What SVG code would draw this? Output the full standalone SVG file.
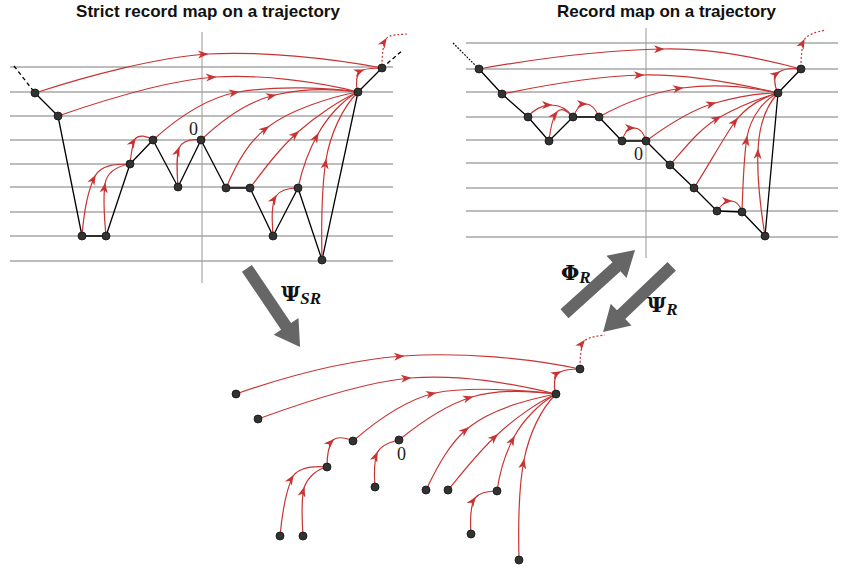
<svg xmlns="http://www.w3.org/2000/svg" width="841" height="569" viewBox="0 0 841 569">
<style>
.grid{stroke:#a8a8a8;stroke-width:1.3;fill:none}
.axis{stroke:#a0a0a0;stroke-width:1.1;fill:none}
.traj{stroke:#000;stroke-width:1.3;fill:none;stroke-linejoin:round}
.dash{stroke:#000;stroke-width:1.3;fill:none;stroke-dasharray:4,3}
.dot{stroke:#000;stroke-width:1.2;fill:none;stroke-dasharray:1.8,1.4}
.rc{stroke:#c83434;stroke-width:1.2;fill:none;marker-mid:url(#ah)}
.rd{stroke:#c83434;stroke-width:1.2;fill:none;stroke-dasharray:2,2;marker-mid:url(#ah)}
.nd circle{fill:#333;stroke:#111;stroke-width:0.8}
.title{font-family:"Liberation Sans",Arial,sans-serif;font-weight:bold;font-size:17px;fill:#111}
.zero{font-family:"Liberation Serif","DejaVu Serif",serif;font-size:18px;fill:#222}
.gk{font-family:"DejaVu Serif","Liberation Serif",serif;font-weight:bold;font-size:21px;fill:#111}
.sub{font-family:"Liberation Serif","DejaVu Serif",serif;font-weight:bold;font-style:italic;font-size:17px;fill:#111}
.big{fill:#666}
</style>
<defs>
<marker id="ah" viewBox="-10 -5 12 10" markerWidth="12" markerHeight="10" refX="0" refY="0" orient="auto" markerUnits="userSpaceOnUse">
<path d="M-9,-4 L1.5,0 L-9,4 L-6,0 Z" fill="#c83434"/>
</marker>
<polygon id="bigarrow" points="0,-6 70,-6 70,-15 95,0 70,15 70,6 0,6"/>
</defs>

<!-- titles -->
<text class="title" x="208" y="17" text-anchor="middle" textLength="264" lengthAdjust="spacing">Strict record map on a trajectory</text>
<text class="title" x="666.5" y="17" text-anchor="middle" textLength="219" lengthAdjust="spacing">Record map on a trajectory</text>

<!-- left grid -->
<g id="left-grid">
<path class="grid" d="M10,67H393M10,92H393M10,116H393M10,140H393M10,164H393M10,187H393M10,212H393M10,236H393M10,261H393"/>
<path class="axis" d="M202,32V283"/>
</g>
<!-- right grid -->
<g id="right-grid">
<path class="grid" d="M466,43H838M466,69H838M466,92H838M466,117H838M466,140H838M466,163H838M466,188H838M466,211H838M466,237H838"/>
<path class="axis" d="M646,28V258"/>
</g>

<g id="connectors">
<!-- left trajectory -->
<path class="dash" d="M14,66L35,93"/>
<path class="traj" d="M35,93L58,116L82,236L106,236L130,164L153,140L178,187L201,140L226,188L250,188L273,236L298,188L322,260L358,92L382,68"/>
<path class="dash" d="M382,68L403,50"/>
<!-- left red record arrows -->
<path class="rc" d="M35,93 C90,75 160,57 207,54 C260,51 330,58 382,68"/>
<path class="rc" d="M58,116 C110,98 170,80 215,77 C260,74 320,82 358,92"/>
<path class="rc" d="M153,140 C175,120 205,98 238,92 C280,85 330,88 358,92"/>
<path class="rc" d="M201,140 C220,122 245,102 275,95 C305,88 335,89 358,92"/>
<path class="rc" d="M226,188 C238,160 250,140 268,127 C290,110 330,97 358,92"/>
<path class="rc" d="M250,188 C265,168 280,148 298,132 C316,116 340,100 358,92"/>
<path class="rc" d="M298,188 C303,165 310,148 318,134 C328,116 343,100 358,92"/>
<path class="rc" d="M322,260 C321,215 322,185 326,160 C330,135 342,108 358,92"/>
<path class="rc" d="M82,236 C84,210 88,190 95,176 C101,165 115,164 130,164"/>
<path class="rc" d="M106,236 C104,215 103,198 105,184 C107,172 118,166 130,164"/>
<path class="rc" d="M130,164 C131,155 132,145 135,139 C139,134 147,136 153,140"/>
<path class="rc" d="M178,187 C177,172 176,158 179,148 C183,140 193,139 201,140"/>
<path class="rc" d="M273,236 C272,220 271,205 276,196 C281,189 291,188 298,188"/>
<path class="rc" d="M358,92 C355,84 356,73 363,70 C369,68 376,68 382,68"/>
<path class="rd" d="M382,66 C382,55 383,45 386,39 C390,34 398,35 407,34"/>

<!-- right trajectory -->
<path class="dot" d="M453,43L479,69"/>
<path class="traj" d="M479,69L502,94L528,117L549,141L573,117L599,117L622,141L646,141L670,165L694,188L717,211L742,212L765,236L778,93L801,69"/>
<!-- right red record arrows -->
<path class="rc" d="M479,69 C540,58 610,50 663,49 C710,48 760,58 801,69"/>
<path class="rc" d="M502,94 C550,84 600,76 643,75 C690,74 740,84 778,93"/>
<path class="rc" d="M528,117 C533,110 542,105 551,105 C560,105 568,110 573,117"/>
<path class="rc" d="M549,141 C550,131 552,119 557,112 C561,107 568,111 573,117"/>
<path class="rc" d="M573,117 C576,110 580,104 586,104 C592,104 596,110 599,117"/>
<path class="rc" d="M599,117 C620,105 650,93 682,88 C720,83 755,88 778,93"/>
<path class="rc" d="M622,141 C624,134 628,128 634,128 C640,128 644,134 646,141"/>
<path class="rc" d="M646,141 C665,127 690,110 715,103 C740,96 760,93 778,93"/>
<path class="rc" d="M670,165 C685,148 700,128 720,117 C740,106 760,98 778,93"/>
<path class="rc" d="M694,188 C710,163 725,135 737,119 C748,106 764,97 778,93"/>
<path class="rc" d="M717,211 C721,205 726,201 731,201 C736,201 740,205 742,212"/>
<path class="rc" d="M742,212 C743,180 744,155 747,137 C751,116 764,100 778,93"/>
<path class="rc" d="M765,236 C760,205 757,170 758,150 C759,125 767,105 778,93"/>
<path class="rc" d="M778,93 C774,85 773,76 779,72 C785,68 793,68 801,69"/>
<path class="rd" d="M801,67 C801,57 802,46 804,40 C808,34 816,32 826,30"/>

<!-- bottom tree -->
<path class="rc" d="M236,394 C290,375 350,360 403,356 C460,352 530,358 580,369"/>
<path class="rc" d="M258,419 C310,400 365,382 410,378 C460,374 510,383 556,394"/>
<path class="rc" d="M353,441 C375,422 405,400 435,393 C470,386 520,390 556,394"/>
<path class="rc" d="M327,467 C327,457 328,446 333,440 C338,436 346,438 353,441"/>
<path class="rc" d="M280,536 C282,515 286,490 293,476 C300,467 315,466 327,467"/>
<path class="rc" d="M303,536 C302,520 301,500 304,488 C308,476 318,469 327,467"/>
<path class="rc" d="M399,440 C420,423 445,405 472,397 C500,389 530,391 556,394"/>
<path class="rc" d="M375,487 C374,475 374,462 377,453 C381,445 390,442 399,440"/>
<path class="rc" d="M426,490 C438,465 450,443 468,428 C490,410 525,400 556,394"/>
<path class="rc" d="M448,490 C463,472 480,450 497,435 C515,418 538,402 556,394"/>
<path class="rc" d="M497,491 C500,470 506,452 514,437 C523,420 540,403 556,394"/>
<path class="rc" d="M471,534 C470,520 470,506 475,498 C480,492 489,491 497,491"/>
<path class="rc" d="M519,560 C518,520 519,485 524,460 C529,435 540,410 556,394"/>
<path class="rc" d="M556,394 C553,386 554,375 560,372 C566,369 573,369 580,369"/>
<path class="rd" d="M580,367 C580,357 581,347 584,341 C589,337 597,336 605,335"/>

<!-- big gray map arrows -->
<use href="#bigarrow" class="big" transform="translate(246.9,268.3) rotate(55.97)"/>
<use href="#bigarrow" class="big" transform="translate(564.5,313.7) rotate(-42.07)"/>
<use href="#bigarrow" class="big" transform="translate(671.7,266.3) rotate(136.25)"/>
</g>

<!-- labels -->
<text class="gk" x="281" y="301">Ψ<tspan class="sub" dy="3">SR</tspan></text>
<text class="gk" x="561" y="280">Φ<tspan class="sub" dy="3">R</tspan></text>
<text class="gk" x="647" y="312">Ψ<tspan class="sub" dy="3">R</tspan></text>
<text class="zero" x="189" y="135">0</text>
<text class="zero" x="634" y="160">0</text>
<text class="zero" x="397" y="460">0</text>

<!-- left nodes -->
<g id="L1" class="nd"><circle cx="35" cy="93" r="4"/></g>
<g id="L2" class="nd"><circle cx="58" cy="116" r="4"/></g>
<g id="L3" class="nd"><circle cx="82" cy="236" r="4"/></g>
<g id="L4" class="nd"><circle cx="106" cy="236" r="4"/></g>
<g id="L5" class="nd"><circle cx="130" cy="164" r="4"/></g>
<g id="L6" class="nd"><circle cx="153" cy="140" r="4"/></g>
<g id="L7" class="nd"><circle cx="178" cy="187" r="4"/></g>
<g id="L8" class="nd"><circle cx="201" cy="140" r="4"/></g>
<g id="L9" class="nd"><circle cx="226" cy="188" r="4"/></g>
<g id="L10" class="nd"><circle cx="250" cy="188" r="4"/></g>
<g id="L11" class="nd"><circle cx="273" cy="236" r="4"/></g>
<g id="L12" class="nd"><circle cx="298" cy="188" r="4"/></g>
<g id="L13" class="nd"><circle cx="322" cy="260" r="4"/></g>
<g id="L14" class="nd"><circle cx="358" cy="92" r="4"/></g>
<g id="L15" class="nd"><circle cx="382" cy="68" r="4"/></g>
<!-- right nodes -->
<g id="R1" class="nd"><circle cx="479" cy="69" r="4"/></g>
<g id="R2" class="nd"><circle cx="502" cy="94" r="4"/></g>
<g id="R3" class="nd"><circle cx="528" cy="117" r="4"/></g>
<g id="R4" class="nd"><circle cx="549" cy="141" r="4"/></g>
<g id="R5" class="nd"><circle cx="573" cy="117" r="4"/></g>
<g id="R6" class="nd"><circle cx="599" cy="117" r="4"/></g>
<g id="R7" class="nd"><circle cx="622" cy="141" r="4"/></g>
<g id="R8" class="nd"><circle cx="646" cy="141" r="4"/></g>
<g id="R9" class="nd"><circle cx="670" cy="165" r="4"/></g>
<g id="R10" class="nd"><circle cx="694" cy="188" r="4"/></g>
<g id="R11" class="nd"><circle cx="717" cy="211" r="4"/></g>
<g id="R12" class="nd"><circle cx="742" cy="212" r="4"/></g>
<g id="R13" class="nd"><circle cx="765" cy="236" r="4"/></g>
<g id="R14" class="nd"><circle cx="778" cy="93" r="4"/></g>
<g id="R15" class="nd"><circle cx="801" cy="69" r="4"/></g>
<!-- bottom nodes -->
<g id="B1" class="nd"><circle cx="236" cy="394" r="4"/></g>
<g id="B2" class="nd"><circle cx="258" cy="419" r="4"/></g>
<g id="B3" class="nd"><circle cx="353" cy="441" r="4"/></g>
<g id="B4" class="nd"><circle cx="327" cy="467" r="4"/></g>
<g id="B5" class="nd"><circle cx="280" cy="536" r="4"/></g>
<g id="B6" class="nd"><circle cx="303" cy="536" r="4"/></g>
<g id="B7" class="nd"><circle cx="399" cy="440" r="4"/></g>
<g id="B8" class="nd"><circle cx="375" cy="487" r="4"/></g>
<g id="B9" class="nd"><circle cx="426" cy="490" r="4"/></g>
<g id="B10" class="nd"><circle cx="448" cy="490" r="4"/></g>
<g id="B11" class="nd"><circle cx="497" cy="491" r="4"/></g>
<g id="B12" class="nd"><circle cx="471" cy="534" r="4"/></g>
<g id="B13" class="nd"><circle cx="519" cy="560" r="4"/></g>
<g id="B14" class="nd"><circle cx="556" cy="394" r="4"/></g>
<g id="B15" class="nd"><circle cx="580" cy="369" r="4"/></g>
</svg>
